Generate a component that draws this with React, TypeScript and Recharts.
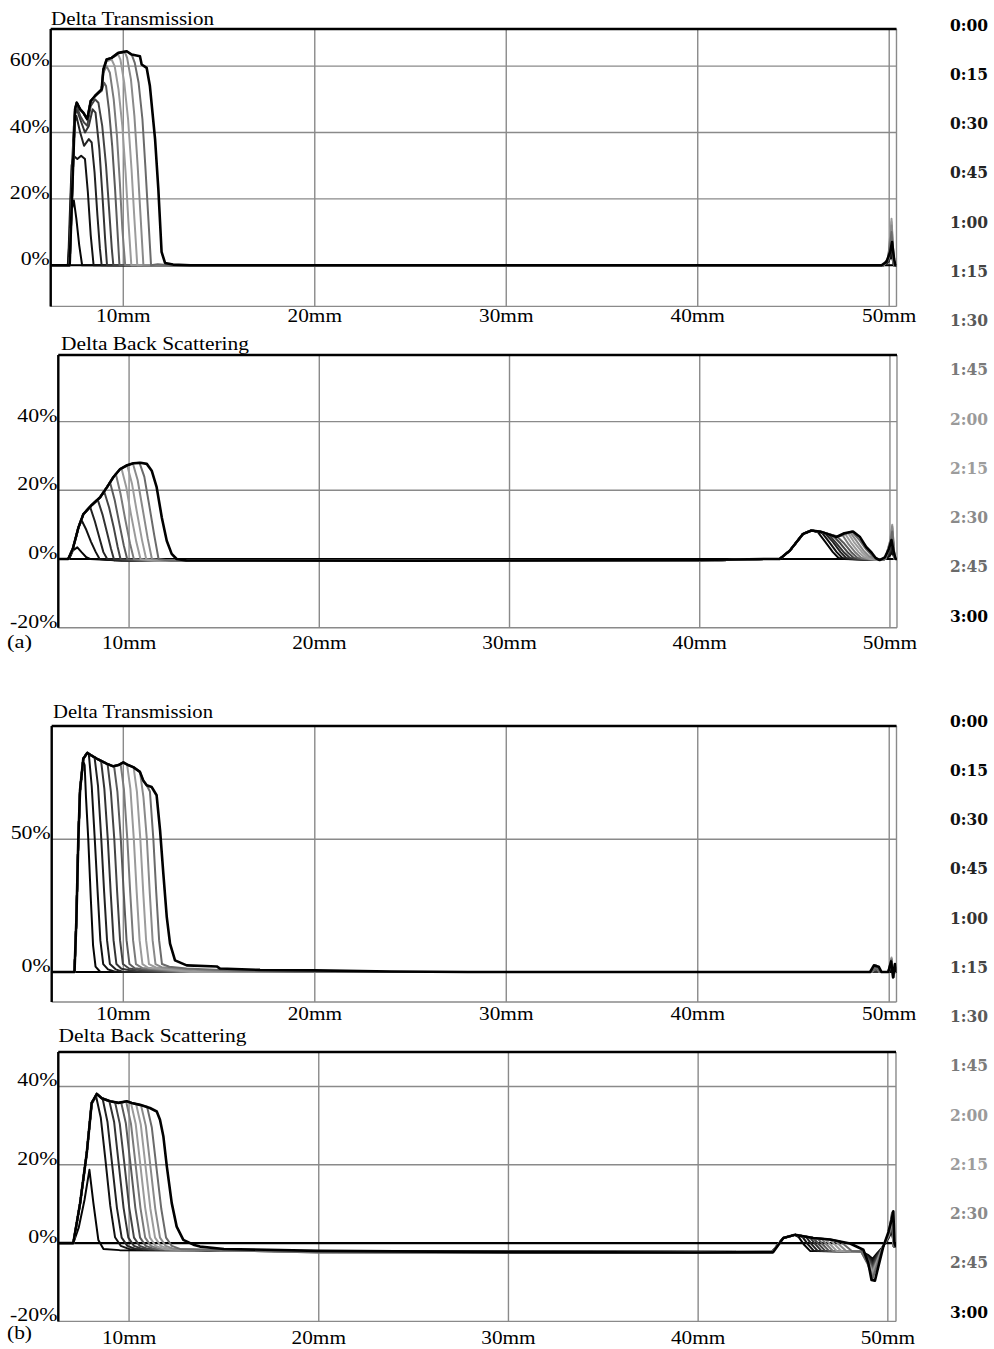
import React from 'react';
import { LineChart, Line, XAxis, YAxis, CartesianGrid, ReferenceLine } from 'recharts';

type Pt = [number, number];

const timeLabels = ['0:00', '0:15', '0:30', '0:45', '1:00', '1:15', '1:30', '1:45', '2:00', '2:15', '2:30', '2:45', '3:00'];
const timeColors = ['#000000', '#050505', '#111111', '#222222', '#333333', '#444444', '#5a5a5a', '#7a7a7a', '#9a9a9a', '#9c9c9c', '#8a8a8a', '#6a6a6a', '#000000'];
const xTicks = [10, 20, 30, 40, 50];
const xTickLabels = ['10mm', '20mm', '30mm', '40mm', '50mm'];
const panelTitles = ['Delta Transmission', 'Delta Back Scattering', 'Delta Transmission', 'Delta Back Scattering'];
const partLabels = ['(a)', '(b)'];
const yTicksA_DT = [0, 20, 40, 60];
const yLabelsA_DT = ['0%', '20%', '40%', '60%'];
const yTicksA_BS = [-20, 0, 20, 40];
const yLabelsA_BS = ['-20%', '0%', '20%', '40%'];
const yTicksB_DT = [0, 50];
const yLabelsB_DT = ['0%', '50%'];
const yTicksB_BS = [-20, 0, 20, 40];
const yLabelsB_BS = ['-20%', '0%', '20%', '40%'];

// ---------- (a) Delta Transmission ----------
const aDT_rise: Pt[] = [[6.21, 0], [7.2, 0], [7.35, 25], [7.48, 47], [7.57, 49], [7.75, 47], [7.91, 46], [8.12, 44], [8.3, 49.5], [8.52, 51]];
const aDT0: Pt[] = [[6.21, 0], [50.38, 0]];
const aDT1: Pt[] = [[6.21, 0], [7.1, 0], [7.2, 8], [7.32, 17], [7.42, 19.5], [7.55, 14], [7.7, 6], [7.85, 0], [49.7, 0], [49.95, 1], [50.12, 3], [50.25, 0], [50.38, 0]];
const aDT2: Pt[] = [[6.21, 0], [7.12, 0], [7.2, 14], [7.3, 30], [7.4, 33], [7.6, 32], [7.8, 33], [8.0, 32], [8.15, 22], [8.3, 9], [8.45, 0], [49.7, 0], [49.95, 1], [50.12, 4], [50.25, 0], [50.38, 0]];
const aDT3: Pt[] = [[6.21, 0], [7.15, 0], [7.28, 24], [7.42, 42], [7.55, 45], [7.75, 40], [7.95, 36], [8.2, 38], [8.35, 37], [8.5, 28], [8.65, 15], [8.78, 5], [8.87, 0], [49.7, 0], [49.95, 1], [50.12, 5], [50.25, 0], [50.38, 0]];
const aDT4: Pt[] = [[6.21, 0], [7.18, 0], [7.32, 26], [7.46, 45], [7.57, 47], [7.75, 44], [8.0, 40], [8.2, 42], [8.4, 47], [8.55, 46], [8.75, 35], [8.9, 22], [9.05, 8], [9.15, 0], [49.7, 0], [49.95, 1], [50.12, 6], [50.25, 0], [50.38, 0]];
const aDT5: Pt[] = [[6.21, 0], [7.2, 0], [7.34, 26], [7.48, 46], [7.57, 48], [7.75, 45], [7.95, 43], [8.12, 42], [8.3, 48], [8.52, 50], [8.7, 49], [8.9, 42], [9.1, 30], [9.27, 16], [9.4, 5], [9.48, 0], [49.7, 0], [49.95, 1.5], [50.12, 8], [50.25, 0], [50.38, 0]];
const aDT6: Pt[] = [...aDT_rise, [8.87, 52.5], [9.0, 55], [9.1, 54], [9.25, 47], [9.42, 36], [9.57, 23], [9.7, 10], [9.8, 0], [49.7, 0], [49.95, 1.5], [50.12, 9], [50.25, 0], [50.38, 0]];
const aDT7: Pt[] = [...aDT_rise, [8.87, 53], [8.96, 58], [9.13, 60], [9.3, 58], [9.5, 50], [9.67, 39], [9.82, 25], [9.95, 11], [10.1, 0], [49.7, 0], [49.95, 2], [50.12, 11], [50.25, 0], [50.38, 0]];
const aDT8: Pt[] = [...aDT_rise, [8.87, 53], [8.96, 59], [9.13, 61.5], [9.39, 62], [9.55, 60], [9.75, 53], [9.95, 42], [10.12, 28], [10.27, 13], [10.42, 0], [49.7, 0], [49.95, 2], [50.12, 13], [50.25, 0], [50.38, 0]];
const aDT9: Pt[] = [...aDT_rise, [8.87, 53], [8.96, 59], [9.13, 62], [9.39, 62.5], [9.74, 63.5], [9.85, 62], [10.05, 55], [10.25, 44], [10.43, 29], [10.58, 14], [10.73, 0], [49.7, 0], [49.95, 2], [50.12, 14], [50.25, 0], [50.38, 0]];
const aDT10: Pt[] = [...aDT_rise, [8.87, 53], [8.96, 59], [9.13, 62], [9.39, 62.5], [9.74, 64], [10.1, 64], [10.2, 62.5], [10.4, 56], [10.58, 45], [10.75, 30], [10.9, 15], [11.05, 0], [49.7, 0], [49.95, 2], [50.12, 12], [50.25, 0], [50.38, 0]];
const aDT11: Pt[] = [...aDT_rise, [8.87, 53], [8.96, 59], [9.13, 62], [9.39, 62.5], [9.74, 64], [10.18, 64.5], [10.44, 63.5], [10.6, 61], [10.8, 55], [11.0, 44], [11.15, 30], [11.3, 15], [11.45, 0], [11.8, 0.3], [12.4, 0], [49.7, 0], [49.95, 2], [50.12, 10], [50.25, 0], [50.38, 0]];
const aDT12: Pt[] = [...aDT_rise, [8.87, 53], [8.96, 59], [9.13, 62], [9.39, 62.5], [9.74, 64], [10.18, 64.5], [10.44, 63.5], [10.87, 63], [10.96, 60.5], [11.22, 59.5], [11.39, 54], [11.66, 38], [11.83, 23], [11.92, 13], [12.0, 4], [12.18, 0.7], [12.6, 0.2], [13.5, 0], [49.6, 0], [49.85, 1], [50.05, 4], [50.15, 7], [50.25, 2], [50.32, 0], [50.38, 0]];

// ---------- (a) Delta Back Scattering ----------
const aBS_rise: Pt[] = [[6.28, 0], [6.8, 0], [7.04, 2.9], [7.34, 9.2], [7.6, 13.1]];
const aBS_bump: Pt[] = [[40, -0.5], [43.5, 0], [44.2, 0], [44.73, 2.4], [45.43, 7.3], [45.87, 8.3]];
const aBS0: Pt[] = [[6.28, 0], [50.37, 0]];
const aBS1: Pt[] = [[6.28, 0], [6.85, 0], [7.05, 2.5], [7.28, 3.4], [7.5, 2], [7.75, 0.5], [7.95, 0], [9, -0.3], ...aBS_bump, [46.2, 7.9], [46.6, 5], [47.0, 2], [47.3, 0.3], [47.6, 0], [49.4, -0.3], [49.75, 0], [50.0, 1], [50.12, 2], [50.25, 0], [50.37, 0]];
const aBS2: Pt[] = [[6.28, 0], [6.82, 0], [7.04, 3], [7.34, 9.2], [7.51, 11.2], [7.75, 8.5], [8.0, 5], [8.25, 2], [8.45, 0], [9.2, -0.4], ...aBS_bump, [46.4, 7.8], [46.8, 5], [47.2, 2], [47.5, 0.3], [47.8, 0], [49.4, -0.3], [49.75, 0], [50.0, 1.5], [50.12, 3], [50.25, 0], [50.37, 0]];
const aBS3: Pt[] = [...aBS_rise, [7.95, 15.2], [8.2, 11], [8.45, 6], [8.65, 2], [8.85, 0], [9.6, -0.5], ...aBS_bump, [46.6, 7.4], [47.0, 5], [47.4, 2], [47.7, 0.3], [48.0, 0], [49.4, -0.3], [49.75, 0], [50.0, 2], [50.12, 4], [50.25, 0], [50.37, 0]];
const aBS4: Pt[] = [...aBS_rise, [8.0, 15.5], [8.35, 17.3], [8.6, 13], [8.85, 7.5], [9.05, 3], [9.2, 0], [10, -0.5], ...aBS_bump, [46.4, 7.9], [46.8, 7.0], [47.2, 4.5], [47.6, 1.8], [47.9, 0.3], [48.2, 0], [49.4, -0.3], [49.75, 0], [50.0, 2.5], [50.12, 5], [50.25, 0], [50.37, 0]];
const aBS5: Pt[] = [...aBS_rise, [8.0, 15.5], [8.48, 18], [8.7, 19.5], [8.95, 15], [9.2, 9], [9.4, 3.5], [9.55, 0], [10.3, -0.5], ...aBS_bump, [46.4, 7.9], [47.0, 6.8], [47.4, 4.5], [47.8, 1.8], [48.1, 0.3], [48.4, 0], [49.4, -0.3], [49.75, 0], [50.0, 3], [50.12, 6], [50.25, 0], [50.37, 0]];
const aBS6: Pt[] = [...aBS_rise, [8.0, 15.5], [8.48, 18], [8.85, 21], [9.0, 22.3], [9.25, 17], [9.5, 10], [9.72, 4], [9.9, 0], [10.6, -0.5], ...aBS_bump, [46.4, 7.9], [47.2, 6.6], [47.6, 4.5], [48.0, 1.8], [48.3, 0.3], [48.6, 0], [49.4, -0.3], [49.75, 0], [50.0, 3.5], [50.12, 7], [50.25, 0], [50.37, 0]];
const aBS7: Pt[] = [...aBS_rise, [8.0, 15.5], [8.48, 18], [8.85, 21], [9.17, 23.8], [9.3, 24.8], [9.55, 19], [9.8, 11.5], [10.05, 4.5], [10.25, 0], [11, -0.5], ...aBS_bump, [46.4, 7.9], [47.19, 6.5], [47.5, 7], [47.8, 4.5], [48.2, 1.8], [48.5, 0.3], [48.8, 0], [49.4, -0.3], [49.75, 0], [50.0, 4], [50.12, 8], [50.25, 0], [50.37, 0]];
const aBS8: Pt[] = [...aBS_rise, [8.0, 15.5], [8.48, 18], [8.85, 21], [9.17, 23.8], [9.53, 26.2], [9.6, 26.4], [9.85, 21], [10.1, 13], [10.38, 5], [10.6, 0], [11.3, -0.5], ...aBS_bump, [46.4, 7.9], [47.19, 6.5], [47.65, 7.3], [47.95, 4.8], [48.35, 2], [48.65, 0.5], [48.95, 0], [49.4, -0.3], [49.75, 0], [50.0, 4.5], [50.12, 9], [50.25, 0], [50.37, 0]];
const aBS9: Pt[] = [...aBS_rise, [8.0, 15.5], [8.48, 18], [8.85, 21], [9.17, 23.8], [9.53, 26.2], [9.9, 27.3], [10.15, 22], [10.4, 14], [10.68, 5.5], [10.9, 0], [11.6, -0.5], ...aBS_bump, [46.4, 7.9], [47.19, 6.4], [47.8, 7.6], [48.1, 5], [48.5, 2.2], [48.8, 0.6], [49.1, 0], [49.4, -0.3], [49.75, 0], [50.0, 5], [50.12, 10], [50.25, 0], [50.37, 0]];
const aBS10: Pt[] = [...aBS_rise, [8.0, 15.5], [8.48, 18], [8.85, 21], [9.17, 23.8], [9.53, 26.2], [9.9, 27.3], [10.2, 27.8], [10.45, 23], [10.7, 15], [10.98, 6], [11.2, 0], [11.9, -0.5], ...aBS_bump, [46.4, 7.9], [47.19, 6.4], [47.9, 7.8], [48.25, 5.2], [48.6, 2.5], [48.9, 0.8], [49.2, 0], [49.45, -0.3], [49.75, 0], [50.0, 5], [50.12, 9.5], [50.25, 0], [50.37, 0]];
const aBS11: Pt[] = [...aBS_rise, [8.0, 15.5], [8.48, 18], [8.85, 21], [9.17, 23.8], [9.53, 26.2], [9.9, 27.3], [10.23, 27.9], [10.55, 28], [10.8, 24], [11.05, 16], [11.32, 7], [11.55, 0], [12.2, -0.5], ...aBS_bump, [46.4, 7.9], [47.19, 6.4], [48.0, 8], [48.4, 5.5], [48.75, 2.8], [49.05, 1], [49.35, 0], [49.5, -0.3], [49.75, 0], [50.0, 4], [50.12, 8], [50.25, 0], [50.37, 0]];
const aBS12: Pt[] = [...aBS_rise, [8.0, 15.5], [8.48, 18], [8.85, 21], [9.17, 23.8], [9.53, 26.2], [9.9, 27.3], [10.23, 27.9], [10.6, 28], [10.93, 27.7], [11.19, 25.7], [11.45, 20.9], [11.72, 12.1], [11.98, 5.3], [12.24, 1.5], [12.5, 0], [13, -0.4], [25, -0.5], [40, -0.3], [43.5, 0], [44.2, 0], [44.73, 2.4], [45.43, 7.3], [45.87, 8.3], [46.4, 7.9], [47.19, 6.4], [47.6, 7.5], [48.06, 8], [48.41, 6.5], [48.75, 3.5], [49.03, 1.9], [49.25, 0.3], [49.46, -0.3], [49.73, 0.5], [49.95, 3], [50.08, 5.5], [50.2, 2], [50.3, 0], [50.37, 0]];

// ---------- (b) Delta Transmission ----------
const bDT_rise: Pt[] = [[6.26, 0], [7.45, 0], [7.55, 20], [7.65, 50], [7.74, 68.5], [7.91, 80.4]];
const bDT0: Pt[] = [[6.26, 0], [50.38, 0]];
const bDT1: Pt[] = [[6.26, 0], [7.45, 0], [7.55, 20], [7.65, 50], [7.74, 68], [7.9, 79.5], [7.98, 78], [8.05, 66], [8.17, 50], [8.3, 28], [8.42, 10], [8.55, 2], [8.8, 0], [49.95, 0], [50.12, 1], [50.22, -0.5], [50.3, 0], [50.38, 0]];
const bDT2: Pt[] = [...bDT_rise, [8.12, 82.6], [8.2, 82], [8.35, 70], [8.51, 50], [8.66, 30], [8.8, 12], [8.95, 3], [9.2, 1], [9.6, 0], [49.95, 0], [50.12, 1.5], [50.22, -0.5], [50.3, 0], [50.38, 0]];
const bDT3: Pt[] = [...bDT_rise, [8.12, 82.6], [8.35, 81.5], [8.5, 80.8], [8.68, 70], [8.85, 50], [9.0, 30], [9.15, 12], [9.3, 3], [9.6, 1], [10.0, 0], [49.95, 0], [50.12, 2], [50.22, -0.8], [50.3, 0], [50.38, 0]];
const bDT4: Pt[] = [...bDT_rise, [8.12, 82.6], [8.35, 81.5], [8.61, 80.4], [8.84, 79.5], [9.01, 69], [9.19, 50], [9.34, 30], [9.49, 12], [9.64, 3], [9.9, 1.2], [10.5, 0.5], [11, 0], [49.95, 0], [50.12, 2.5], [50.22, -1], [50.3, 0.5], [50.38, 0]];
const bDT5: Pt[] = [...bDT_rise, [8.12, 82.6], [8.35, 81.5], [8.61, 80.4], [9.13, 78.5], [9.18, 78.3], [9.35, 68], [9.53, 50], [9.68, 30], [9.83, 12], [9.98, 3], [10.3, 1.3], [11, 0.6], [12, 0], [49.1, 0], [49.3, 1], [49.5, 0], [49.95, 0], [50.12, 3], [50.22, -1], [50.3, 0.5], [50.38, 0]];
const bDT6: Pt[] = [...bDT_rise, [8.12, 82.6], [8.35, 81.5], [8.61, 80.4], [9.13, 78.5], [9.48, 77.5], [9.52, 77.5], [9.69, 68], [9.87, 50], [10.02, 30], [10.17, 12], [10.32, 3], [10.6, 1.4], [11.5, 0.7], [12.5, 0], [49.1, 0], [49.3, 1.5], [49.5, 0], [49.95, 0], [50.12, 3.5], [50.22, -1.5], [50.3, 1], [50.38, 0]];
const bDT7: Pt[] = [...bDT_rise, [8.12, 82.6], [8.35, 81.5], [8.61, 80.4], [9.13, 78.5], [9.48, 77.5], [9.75, 78], [9.86, 78.3], [10.03, 69], [10.21, 50], [10.36, 30], [10.51, 12], [10.66, 3], [11, 1.5], [12, 0.8], [13, 0], [49.1, 0], [49.3, 2], [49.5, 0], [49.95, 0], [50.12, 4], [50.22, -1.5], [50.3, 1], [50.38, 0]];
const bDT8: Pt[] = [...bDT_rise, [8.12, 82.6], [8.35, 81.5], [8.61, 80.4], [9.13, 78.5], [9.48, 77.5], [9.75, 78], [10.0, 79], [10.2, 78], [10.37, 69], [10.55, 50], [10.7, 30], [10.85, 12], [11.0, 3], [11.3, 1.6], [12.3, 0.9], [13.5, 0], [49.1, 0], [49.3, 2.5], [49.5, 0], [49.95, 0], [50.12, 5], [50.22, -2], [50.3, 1.5], [50.38, 0]];
const bDT9: Pt[] = [...bDT_rise, [8.12, 82.6], [8.35, 81.5], [8.61, 80.4], [9.13, 78.5], [9.48, 77.5], [9.75, 78], [10.0, 79], [10.25, 78], [10.54, 77], [10.71, 68], [10.89, 50], [11.04, 30], [11.19, 12], [11.34, 3], [11.7, 1.7], [12.7, 1], [14, 0], [49.1, 0], [49.3, 2.5], [49.5, 0], [49.95, 0], [50.12, 5.5], [50.22, -2], [50.3, 2], [50.38, 0]];
const bDT10: Pt[] = [...bDT_rise, [8.12, 82.6], [8.35, 81.5], [8.61, 80.4], [9.13, 78.5], [9.48, 77.5], [9.75, 78], [10.0, 79], [10.25, 78], [10.52, 77.2], [10.87, 75.4], [11.05, 66], [11.23, 50], [11.38, 30], [11.53, 12], [11.68, 3], [12.0, 1.8], [13, 1.1], [15, 0.3], [17, 0], [49.1, 0], [49.3, 2.5], [49.5, 0], [49.95, 0], [50.12, 5], [50.22, -2], [50.3, 2], [50.38, 0]];
const bDT11: Pt[] = [...bDT_rise, [8.12, 82.6], [8.35, 81.5], [8.61, 80.4], [9.13, 78.5], [9.48, 77.5], [9.75, 78], [10.0, 79], [10.25, 78], [10.52, 77.2], [10.87, 75.4], [11.04, 72.2], [11.22, 70.4], [11.39, 68], [11.57, 50], [11.72, 30], [11.87, 12], [12.02, 3], [12.4, 2], [13.3, 1.3], [16, 0.5], [19, 0], [49.1, 0], [49.3, 2], [49.5, 0], [49.95, 0], [50.12, 4.5], [50.22, -2], [50.3, 2], [50.38, 0]];
const bDT12: Pt[] = [...bDT_rise, [8.12, 82.6], [8.35, 81.5], [8.61, 80.4], [9.13, 78.5], [9.48, 77.5], [9.75, 78], [10.0, 79], [10.25, 78], [10.52, 77.2], [10.87, 75.4], [11.04, 72.2], [11.22, 70.4], [11.48, 69.7], [11.74, 66.6], [11.92, 53.4], [12.09, 37.1], [12.27, 20.7], [12.44, 10.7], [12.7, 4.4], [13.31, 2.5], [14.88, 2.1], [15.05, 1.3], [17.14, 0.8], [20, 0.6], [24, 0.2], [28, 0], [49.0, 0], [49.2, 2.5], [49.45, 2], [49.6, 0], [49.95, 0], [50.1, 4], [50.2, -2], [50.3, 3], [50.38, 0]];

// ---------- (b) Delta Back Scattering ----------
const bBS_rise: Pt[] = [[6.27, 0], [7.06, 0], [7.42, 10.2], [7.77, 23], [8.03, 35.8], [8.3, 38.1]];
const bBS0: Pt[] = [[6.27, 0], [50.43, 0]];
const bBS1: Pt[] = [[6.27, 0], [7.06, 0], [7.35, 4], [7.65, 11], [7.91, 18.7], [8.12, 10.2], [8.38, 0.8], [8.65, -1.5], [9.5, -1.8], [20, -2], [43.9, -2.2], [44.49, 1.3], [45.11, 2.1], [45.3, 1.5], [45.6, -0.5], [45.9, -2], [48.6, -2.1], [48.95, -3], [49.2, -4], [49.45, -2.5], [49.75, -0.9], [50.05, 1.5], [50.22, 3], [50.32, -1], [50.43, -1]];
const bBS2: Pt[] = [[6.27, 0], [7.06, 0], [7.42, 10.2], [7.77, 23], [8.03, 35.5], [8.26, 37.5], [8.51, 32], [8.76, 21], [9.01, 9.5], [9.26, 1.5], [9.56, -0.7], [10.06, -1.6], [20, -2.1], [43.9, -2.3], [44.49, 1.3], [45.11, 2.1], [45.5, 1.6], [45.8, -0.4], [46.1, -2], [48.6, -2.1], [48.95, -3.3], [49.2, -4.5], [49.45, -2.8], [49.75, -0.9], [50.05, 1.5], [50.22, 3.5], [50.32, -1], [50.43, -1]];
const bBS3: Pt[] = [...bBS_rise, [8.61, 36.8], [8.86, 31], [9.11, 20], [9.36, 9], [9.61, 1.4], [9.91, -0.7], [10.41, -1.6], [20, -2.1], [43.9, -2.3], [44.49, 1.3], [45.11, 2.1], [45.7, 1.5], [46.0, -0.4], [46.3, -2], [48.6, -2.1], [48.95, -3.5], [49.2, -5], [49.45, -3], [49.75, -0.9], [50.05, 1.5], [50.22, 4], [50.32, -1], [50.43, -1]];
const bBS4: Pt[] = [...bBS_rise, [8.56, 37], [8.96, 36.3], [9.21, 31], [9.46, 20], [9.71, 9], [9.96, 1.4], [10.26, -0.7], [10.76, -1.6], [20, -2.2], [43.9, -2.3], [44.49, 1.3], [45.11, 2.1], [45.9, 1.4], [46.2, -0.4], [46.5, -2], [48.6, -2.2], [48.95, -3.7], [49.2, -5.5], [49.45, -3.3], [49.75, -0.9], [50.05, 1.5], [50.22, 4.5], [50.32, -1], [50.43, -1]];
const bBS5: Pt[] = [...bBS_rise, [8.56, 37], [9.0, 36.2], [9.26, 36], [9.51, 30.5], [9.76, 20], [10.01, 9], [10.26, 1.4], [10.56, -0.7], [11.06, -1.6], [20, -2.2], [43.9, -2.3], [44.49, 1.3], [45.11, 2.1], [46.07, 1.3], [46.4, -0.5], [46.7, -2], [48.6, -2.2], [48.95, -4], [49.2, -6], [49.45, -3.6], [49.75, -0.9], [50.05, 1.8], [50.22, 5], [50.32, -1], [50.43, -1]];
const bBS6: Pt[] = [...bBS_rise, [8.56, 37], [9.0, 36.2], [9.44, 35.8], [9.58, 36], [9.83, 30.6], [10.08, 20], [10.33, 9], [10.58, 1.4], [10.88, -0.7], [11.38, -1.6], [20, -2.2], [43.9, -2.3], [44.49, 1.3], [45.11, 2.1], [46.07, 1.3], [46.3, 1.2], [46.6, -0.5], [46.9, -2], [48.6, -2.2], [48.95, -4.2], [49.2, -6.5], [49.45, -3.9], [49.75, -0.9], [50.05, 2], [50.22, 5.5], [50.32, -1], [50.43, -1]];
const bBS7: Pt[] = [...bBS_rise, [8.56, 37], [9.0, 36.2], [9.44, 35.8], [9.85, 36.1], [10.1, 30.5], [10.35, 19.8], [10.6, 9], [10.85, 1.4], [11.15, -0.7], [11.65, -1.6], [20, -2.2], [43.9, -2.3], [44.49, 1.3], [45.11, 2.1], [46.07, 1.3], [46.5, 1.1], [46.8, -0.5], [47.1, -2], [48.6, -2.2], [48.95, -4.5], [49.2, -7], [49.45, -4.2], [49.75, -0.9], [50.05, 2], [50.22, 6], [50.32, -1], [50.43, -1]];
const bBS8: Pt[] = [...bBS_rise, [8.56, 37], [9.0, 36.2], [9.44, 35.8], [9.88, 36.2], [10.1, 35.8], [10.35, 30.4], [10.6, 19.7], [10.85, 9], [11.1, 1.4], [11.4, -0.7], [11.9, -1.6], [20, -2.3], [43.9, -2.4], [44.49, 1.3], [45.11, 2.1], [46.07, 1.3], [46.7, 1.0], [47.0, -0.5], [47.3, -2], [48.6, -2.2], [48.95, -4.8], [49.2, -7.5], [49.45, -4.5], [49.75, -0.9], [50.05, 2.2], [50.22, 6.5], [50.32, -1], [50.43, -1]];
const bBS9: Pt[] = [...bBS_rise, [8.56, 37], [9.0, 36.2], [9.44, 35.8], [9.88, 36.2], [10.14, 35.8], [10.37, 35.5], [10.62, 30.2], [10.87, 19.5], [11.12, 8.9], [11.37, 1.4], [11.67, -0.7], [12.17, -1.6], [20, -2.3], [43.9, -2.4], [44.49, 1.3], [45.11, 2.1], [46.07, 1.3], [46.95, 0.9], [47.25, -0.6], [47.55, -2], [48.6, -2.2], [48.95, -5], [49.2, -8], [49.45, -4.8], [49.75, -0.9], [50.05, 2.4], [50.22, 7], [50.32, -1], [50.43, -1]];
const bBS10: Pt[] = [...bBS_rise, [8.56, 37], [9.0, 36.2], [9.44, 35.8], [9.88, 36.2], [10.14, 35.8], [10.63, 35.2], [10.88, 30], [11.13, 19.4], [11.38, 8.8], [11.63, 1.4], [11.93, -0.7], [12.43, -1.6], [20, -2.4], [43.9, -2.5], [44.49, 1.3], [45.11, 2.1], [46.07, 1.3], [46.95, 0.9], [47.2, 0.7], [47.5, -0.7], [47.8, -2], [48.6, -2.2], [48.95, -5.3], [49.2, -8.5], [49.45, -5], [49.75, -0.9], [50.05, 2.5], [50.22, 7.5], [50.32, -1], [50.43, -1]];
const bBS11: Pt[] = [...bBS_rise, [8.56, 37], [9.0, 36.2], [9.44, 35.8], [9.88, 36.2], [10.14, 35.8], [10.58, 35.3], [10.95, 34.8], [11.2, 29.5], [11.45, 19], [11.7, 8.7], [11.95, 1.4], [12.25, -0.7], [12.75, -1.6], [20, -2.4], [43.9, -2.5], [44.49, 1.3], [45.11, 2.1], [46.07, 1.3], [46.95, 0.9], [47.5, 0.4], [47.8, -0.8], [48.1, -2], [48.6, -2.2], [48.95, -5.5], [49.2, -9], [49.45, -5.5], [49.75, -0.9], [50.05, 2.6], [50.22, 7.8], [50.32, -1], [50.43, -1]];
const bBS12: Pt[] = [...bBS_rise, [8.56, 37], [9.0, 36.2], [9.44, 35.8], [9.88, 36.2], [10.14, 35.8], [10.58, 35.3], [11.1, 34.5], [11.46, 33.6], [11.63, 31.5], [11.81, 27.2], [11.99, 19.6], [12.25, 10.2], [12.51, 4.2], [12.86, 0.8], [13.39, -0.4], [13.74, -0.9], [15, -1.5], [20, -2], [30, -2.3], [40, -2.4], [43.96, -2.3], [44.49, 1.3], [45.11, 2.1], [46.07, 1.3], [46.95, 0.9], [48.01, -0.1], [48.71, -1.7], [48.97, -5.1], [49.14, -9.4], [49.32, -9.6], [49.5, -6], [49.76, -0.9], [50.03, 2.8], [50.2, 6], [50.29, 8.1], [50.35, 0], [50.43, -1]];

const seriesA_DT = [aDT0, aDT1, aDT2, aDT3, aDT4, aDT5, aDT6, aDT7, aDT8, aDT9, aDT10, aDT11, aDT12];
const seriesA_BS = [aBS0, aBS1, aBS2, aBS3, aBS4, aBS5, aBS6, aBS7, aBS8, aBS9, aBS10, aBS11, aBS12];
const seriesB_DT = [bDT0, bDT1, bDT2, bDT3, bDT4, bDT5, bDT6, bDT7, bDT8, bDT9, bDT10, bDT11, bDT12];
const seriesB_BS = [bBS0, bBS1, bBS2, bBS3, bBS4, bBS5, bBS6, bBS7, bBS8, bBS9, bBS10, bBS11, bBS12];

const SERIF = "'Liberation Serif','Times New Roman',serif";

interface PanelCfg {
  series: Pt[][];
  plotLeft: number;
  plotRight: number;
  plotTop: number;
  plotBottom: number;
  xDomain: [number, number];
  yDomain: [number, number];
  yTicks: number[];
  yLabels: string[];
  xLabelDy: number;
}

const panels: PanelCfg[] = [
  { series: seriesA_DT, plotLeft: 50.7, plotRight: 896.5, plotTop: 29.3, plotBottom: 306.7, xDomain: [6.21, 50.38], yDomain: [-12.4, 71.2], yTicks: yTicksA_DT, yLabels: yLabelsA_DT, xLabelDy: 16 },
  { series: seriesA_BS, plotLeft: 58.3, plotRight: 897, plotTop: 355, plotBottom: 627.7, xDomain: [6.28, 50.37], yDomain: [-20, 59.4], yTicks: yTicksA_BS, yLabels: yLabelsA_BS, xLabelDy: 21.5 },
  { series: seriesB_DT, plotLeft: 51.7, plotRight: 896.5, plotTop: 725.7, plotBottom: 1001.7, xDomain: [6.26, 50.38], yDomain: [-11.3, 92.7], yTicks: yTicksB_DT, yLabels: yLabelsB_DT, xLabelDy: 17.5 },
  { series: seriesB_BS, plotLeft: 58.3, plotRight: 896, plotTop: 1052.3, plotBottom: 1321.7, xDomain: [6.27, 50.43], yDomain: [-20, 48.8], yTicks: yTicksB_BS, yLabels: yLabelsB_BS, xLabelDy: 22.5 },
];

const titlePos = [
  { x: 51, y: 25, w: 163 },
  { x: 61, y: 350, w: 188 },
  { x: 53, y: 718, w: 160 },
  { x: 58.5, y: 1042, w: 188 },
];

const XTick = (props: any) => {
  const { x, y, payload, dyOff } = props;
  const idx = xTicks.indexOf(payload.value);
  const label = idx >= 0 ? xTickLabels[idx] : String(payload.value);
  return (
    <text transform={`translate(${x},${y + dyOff}) scale(1.15,1)`} textAnchor="middle" fontFamily={SERIF} fontSize={18.5} fill="#000">
      {label}
    </text>
  );
};

const YTick = (props: any) => {
  const { x, y, payload, ticks, labels } = props;
  const idx = ticks.indexOf(payload.value);
  const label = idx >= 0 ? labels[idx] : String(payload.value);
  return (
    <text transform={`translate(${x - 1},${y}) scale(1.18,1)`} textAnchor="end" fontFamily={SERIF} fontSize={18.5} fill="#000">
      {label}
    </text>
  );
};

function Panel({ cfg }: { cfg: PanelCfg }) {
  const pad = 30;
  const chartTop = cfg.plotTop - pad;
  const height = cfg.plotBottom + pad - chartTop;
  return (
    <div style={{ position: 'absolute', left: 0, top: chartTop }}>
      <LineChart width={994} height={height} margin={{ top: pad, right: 994 - cfg.plotRight, bottom: 0, left: 0 }}>
        <CartesianGrid stroke="#8a8a8a" strokeWidth={1.4} />
        <XAxis
          type="number"
          dataKey="x"
          domain={cfg.xDomain}
          ticks={xTicks}
          interval={0}
          allowDataOverflow
          height={pad}
          axisLine={false}
          tickLine={false}
          tickSize={0}
          tickMargin={0}
          tick={<XTick dyOff={cfg.xLabelDy} />}
        />
        <YAxis
          type="number"
          domain={cfg.yDomain}
          ticks={cfg.yTicks}
          interval={0}
          allowDataOverflow
          width={cfg.plotLeft}
          axisLine={{ stroke: '#000', strokeWidth: 2.4 }}
          tickLine={false}
          tickSize={0}
          tickMargin={0}
          tick={<YTick ticks={cfg.yTicks} labels={cfg.yLabels} />}
        />
        <ReferenceLine y={cfg.yDomain[1]} stroke="#000" strokeWidth={2.4} />
        {cfg.series.map((s, i) => (
          <Line
            key={i}
            name={timeLabels[i]}
            data={s.map(([x, y]) => ({ x, y }))}
            dataKey="y"
            type="linear"
            stroke={timeColors[i]}
            strokeWidth={i === 12 ? 2.6 : i === 0 ? 2.2 : 2}
            strokeLinejoin="round"
            dot={false}
            activeDot={false}
            isAnimationActive={false}
          />
        ))}
      </LineChart>
    </div>
  );
}

export default function App() {
  return (
    <div style={{ position: 'absolute', left: 0, top: 0, width: 994, height: 1349, background: '#fff', overflow: 'hidden' }}>
      {panels.map((p, i) => (
        <Panel key={i} cfg={p} />
      ))}
      <svg width={994} height={1349} style={{ position: 'absolute', left: 0, top: 0, pointerEvents: 'none' }}>
        {panelTitles.map((t, i) => (
          <text key={`t${i}`} x={titlePos[i].x} y={titlePos[i].y} fontFamily={SERIF} fontSize={18.5} fill="#000" textLength={titlePos[i].w} lengthAdjust="spacingAndGlyphs">
            {t}
          </text>
        ))}
        <text x={7} y={648} fontFamily={SERIF} fontSize={18} fill="#000" textLength={25} lengthAdjust="spacingAndGlyphs">{partLabels[0]}</text>
        <text x={7} y={1339} fontFamily={SERIF} fontSize={18} fill="#000" textLength={25} lengthAdjust="spacingAndGlyphs">{partLabels[1]}</text>
        {[0, 696].map((off) =>
          timeLabels.map((t, i) => (
            <text
              key={`l${off}-${i}`}
              x={950}
              y={30.5 + off + i * 49.25}
              fontFamily="'DejaVu Serif',serif"
              fontWeight="bold"
              fontSize={16}
              fill={timeColors[i]}
              textLength={38}
              lengthAdjust="spacingAndGlyphs"
            >
              {t}
            </text>
          ))
        )}
      </svg>
    </div>
  );
}
